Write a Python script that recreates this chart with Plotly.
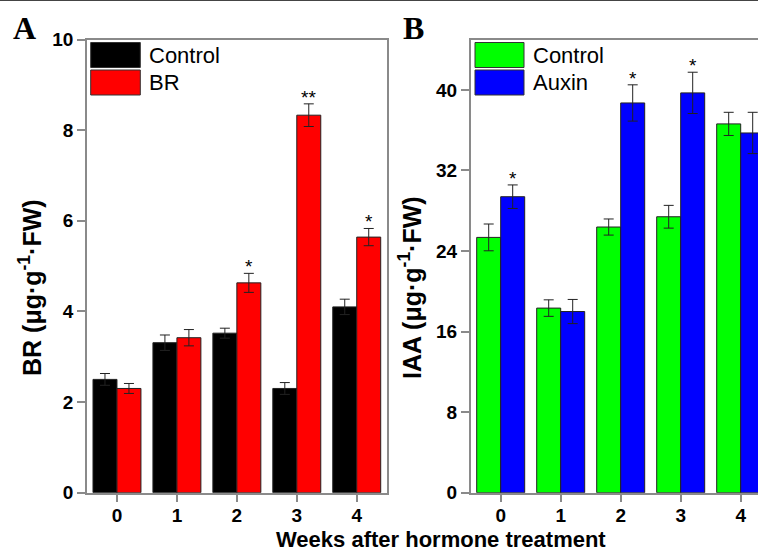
import plotly.graph_objects as go

W, H = 758, 549

weeks = [0, 1, 2, 3, 4]
tick_labels = ["0", "1", "2", "3", "4"]

# Panel A: BR content
br_control = [2.50, 3.31, 3.52, 2.30, 4.10]
br_control_err = [0.13, 0.17, 0.11, 0.13, 0.17]
br_treat = [2.30, 3.42, 4.63, 8.33, 5.64]
br_treat_err = [0.11, 0.18, 0.21, 0.25, 0.19]
br_sig = ["", "", "*", "**", "*"]

# Panel B: IAA content
iaa_control = [25.35, 18.33, 26.38, 27.40, 36.62]
iaa_control_err = [1.33, 0.82, 0.80, 1.13, 1.15]
iaa_treat = [29.39, 17.99, 38.70, 39.70, 35.72]
iaa_treat_err = [1.17, 1.20, 1.80, 2.05, 2.05]
iaa_sig = ["*", "", "*", "*", ""]

names_a = ["Control", "BR"]
names_b = ["Control", "Auxin"]
colors_a = ["#000000", "#ff0000"]
colors_b = ["#00ff00", "#0000ff"]

FONT = "Liberation Sans, Arial, sans-serif"
SERIF = "Liberation Serif, Times New Roman, serif"
AXC = "#8a8a8a"


def px(x):
    return x / W


def py(y):
    return 1 - y / H


fig = go.Figure()

err_style = dict(type="data", color="#222222", thickness=1, width=5, visible=True)
bar_line = dict(color="#222222", width=1)

fig.add_trace(go.Bar(x=weeks, y=br_control, name=names_a[0], marker=dict(color=colors_a[0], line=bar_line),
                     error_y=dict(array=br_control_err, **err_style), xaxis="x", yaxis="y", offsetgroup="a1"))
fig.add_trace(go.Bar(x=weeks, y=br_treat, name=names_a[1], marker=dict(color=colors_a[1], line=bar_line),
                     error_y=dict(array=br_treat_err, **err_style), xaxis="x", yaxis="y", offsetgroup="a2"))
fig.add_trace(go.Bar(x=weeks, y=iaa_control, name=names_b[0], marker=dict(color=colors_b[0], line=bar_line),
                     error_y=dict(array=iaa_control_err, **err_style), xaxis="x2", yaxis="y2", offsetgroup="b1"))
fig.add_trace(go.Bar(x=weeks, y=iaa_treat, name=names_b[1], marker=dict(color=colors_b[1], line=bar_line),
                     error_y=dict(array=iaa_treat_err, **err_style), xaxis="x2", yaxis="y2", offsetgroup="b2"))

ydom = [py(492.7), py(39.5)]
tickfont = dict(family=FONT, size=19, color="#000000", weight="bold")
axis_common = dict(showgrid=False, zeroline=False, showline=True, linecolor=AXC, linewidth=1.5,
                   ticks="outside", ticklen=8, tickwidth=1.5, tickcolor=AXC, tickfont=tickfont,
                   automargin=False)

fig.update_layout(
    width=W, height=H,
    margin=dict(l=0, r=0, t=0, b=0, autoexpand=False),
    paper_bgcolor="white", plot_bgcolor="white",
    barmode="group", bargap=0.2, bargroupgap=0,
    showlegend=False,
    xaxis=dict(domain=[px(87), px(386.7)], range=[-0.5, 4.5], tickvals=weeks, ticktext=tick_labels,
               mirror=True, anchor="y", ticklabelstandoff=-3, **axis_common),
    yaxis=dict(domain=ydom, range=[0, 10], tickvals=[0, 2, 4, 6, 8, 10], mirror=True, anchor="x", **axis_common),
    xaxis2=dict(domain=[px(470.7), 1.0], range=[-0.5, -0.5 + (W - 470.7) / 60.0], tickvals=weeks,
                ticktext=tick_labels, mirror=True, anchor="y2", ticklabelstandoff=-3, **axis_common),
    yaxis2=dict(domain=ydom, range=[0, 45], tickvals=[0, 8, 16, 24, 32, 40], mirror=False, anchor="x2",
                **axis_common),
)

annotations = []
shapes = []

# significance stars above treatment bars
for xs, vals, errs, sig, xr, yr in [(weeks, br_treat, br_treat_err, br_sig, "x", "y"),
                                     (weeks, iaa_treat, iaa_treat_err, iaa_sig, "x2", "y2")]:
    for xv, v, e, s in zip(xs, vals, errs, sig):
        if s:
            annotations.append(dict(x=xv + 0.2, y=v + e, xref=xr, yref=yr, text=s, showarrow=False,
                                    yanchor="bottom", yshift=-6,
                                    font=dict(family=FONT, size=19, color="#000000")))

# legends
for (x0, x1, tx, names, cols) in [(90.7, 140.3, 146.5, names_a, colors_a), (475, 524, 531, names_b, colors_b)]:
    for i, (nm, c) in enumerate(zip(names, cols)):
        y0 = 42.5 + i * 27.5
        y1 = y0 + 25
        shapes.append(dict(type="rect", xref="paper", yref="paper", x0=px(x0), x1=px(x1), y0=py(y1), y1=py(y0),
                           fillcolor=c, line=dict(color="#333333", width=1)))
        annotations.append(dict(x=px(tx), y=py((y0 + y1) / 2), xref="paper", yref="paper", text=nm,
                                showarrow=False, xanchor="left", yanchor="middle",
                                font=dict(family=FONT, size=22, color="#000000")))

# axis titles
annotations.append(dict(x=px(30), y=py(288), xref="paper", yref="paper", textangle=-90,
                        text="BR (μg·g<sup>-1</sup>·FW)", showarrow=False, xanchor="center", yanchor="middle",
                        font=dict(family=FONT, size=25, color="#000000", weight="bold")))
annotations.append(dict(x=px(410), y=py(288), xref="paper", yref="paper", textangle=-90,
                        text="IAA (μg·g<sup>-1</sup>·FW)", showarrow=False, xanchor="center", yanchor="middle",
                        font=dict(family=FONT, size=25, color="#000000", weight="bold")))
annotations.append(dict(x=px(441), y=py(539), xref="paper", yref="paper",
                        text="Weeks after hormone treatment", showarrow=False, xanchor="center",
                        yanchor="middle", font=dict(family=FONT, size=22, color="#000000", weight="bold")))

# panel letters
annotations.append(dict(x=px(24), y=py(28), xref="paper", yref="paper", text="A", showarrow=False,
                        xanchor="center", yanchor="middle",
                        font=dict(family=SERIF, size=32, color="#000000", weight="bold")))
annotations.append(dict(x=px(413), y=py(28), xref="paper", yref="paper", text="B", showarrow=False,
                        xanchor="center", yanchor="middle",
                        font=dict(family=SERIF, size=32, color="#000000", weight="bold")))

# top border line of the figure
shapes.append(dict(type="line", xref="paper", yref="paper", x0=0, x1=1, y0=1, y1=1,
                   line=dict(color="#444444", width=2)))

fig.update_layout(annotations=annotations, shapes=shapes)

fig.write_html("out.html")
